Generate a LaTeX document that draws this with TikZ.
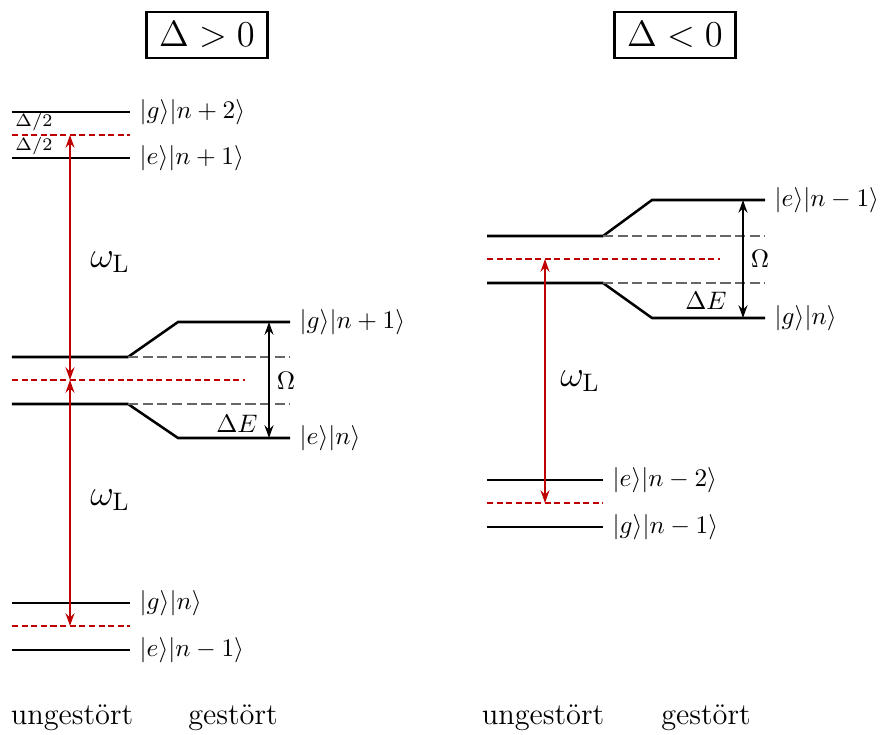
\documentclass[tikz,border=0pt]{standalone}
\usepackage{tikz}
\usetikzlibrary{arrows.meta,positioning}
\definecolor{cL}{HTML}{C00000}
\tikzset{lvl/.style={line width=1pt,line join=round},
  virt/.style={cL,line width=0.8pt,dash pattern=on 2.4pt off 1.4pt},
  bare/.style={black!60,line width=0.8pt,dash pattern=on 4pt off 1.8pt},
  laser/.style={cL,line width=0.9pt,{Stealth[length=5pt,width=3.5pt]}-{Stealth[length=5pt,width=3.5pt]}},
  rabi/.style={line width=0.8pt,{Stealth[length=5pt,width=3.5pt]}-{Stealth[length=5pt,width=3.5pt]}},
  ket/.style={right},
  titlebox/.style={draw,line width=0.9pt,font=\Large,inner xsep=5pt,inner ysep=4pt},
  undertext/.style={font=\large}}

\begin{document}
\begin{tikzpicture}[x=0.013889cm,y=-0.013889cm]
  \useasboundingbox (0,0) rectangle (881,734);
  % Delta > 0
  \node[titlebox] (t1) at (207,35) {$\Delta>0$};
  \draw[lvl] (12,112) -- (130,112) coordinate (g2) node[ket] (kg2) {$|g\rangle|n+2\rangle$};
  \draw[virt] (12,135) -- (130,135) coordinate (v2);
  \draw[lvl] (12,158) -- (130,158) coordinate (e1) node[ket] (ke1) {$|e\rangle|n+1\rangle$};
  \node[font=\scriptsize] (d1) at (34,122) {$\Delta/2$};
  \node[font=\scriptsize] (d2) at (34,146) {$\Delta/2$};
  \draw[lvl] (12,357) -- (128,357) coordinate (ua) -- (178,322) -- (290,322) coordinate (pg1) node[ket] (kpg1) {$|g\rangle|n+1\rangle$};
  \draw[bare] (ua) -- (290,357);
  \draw[virt] (12,380) -- (245,380);
  \draw[lvl] (12,404) -- (128,404) coordinate (ub) -- (178,438) -- (290,438) coordinate (pe0) node[ket] (kpe0) {$|e\rangle|n\rangle$};
  \draw[bare] (ub) -- (290,404);
  \draw[lvl] (12,603) -- (130,603) coordinate (g0) node[ket] (kg0) {$|g\rangle|n\rangle$};
  \draw[virt] (12,626) -- (130,626);
  \draw[lvl] (12,650) -- (130,650) coordinate (em) node[ket] (kem) {$|e\rangle|n-1\rangle$};
  \coordinate (la) at (70,135); \coordinate (lb) at (70,380); \coordinate (lc) at (70,626);
  \draw[laser] (lb) -- (la);
  \draw[laser] (lb) -- (lc);
  \node[font=\Large] (w1) at (110,262) {$\omega_{\mathrm{L}}$};
  \node[font=\Large] (w2) at (110,500) {$\omega_{\mathrm{L}}$};
  \coordinate (oa) at (269,322); \coordinate (ob) at (269,438);
  \draw[rabi] (oa) -- (ob);
  \node (om1) at (286,381) {$\Omega$};
  \node (de1) at (237,424) {$\Delta E$};
  \node[undertext] (u1) at (72,718) {ungestört};
  \node[undertext] (s1) at (233,718) {gestört};
  % Delta < 0
  \node[titlebox] (t2) at (675,35) {$\Delta<0$};
  \draw[lvl] (487,236) -- (603,236) coordinate (uc) -- (652,200) -- (765,200) coordinate (pe1) node[ket] (kpe1) {$|e\rangle|n-1\rangle$};
  \draw[bare] (uc) -- (765,236);
  \draw[virt] (487,259) -- (720,259);
  \draw[lvl] (487,283) -- (603,283) coordinate (ud) -- (652,318) -- (765,318) coordinate (pg0) node[ket] (kpg0) {$|g\rangle|n\rangle$};
  \draw[bare] (ud) -- (765,283);
  \draw[lvl] (487,480) -- (603,480) coordinate (e2) node[ket] (ke2) {$|e\rangle|n-2\rangle$};
  \draw[virt] (487,503) -- (603,503);
  \draw[lvl] (487,527) -- (603,527) coordinate (gm) node[ket] (kgm) {$|g\rangle|n-1\rangle$};
  \coordinate (ra) at (545,259); \coordinate (rb) at (545,503);
  \draw[laser] (ra) -- (rb);
  \node[font=\Large] (w3) at (580,381) {$\omega_{\mathrm{L}}$};
  \coordinate (oc) at (743,200); \coordinate (od) at (743,318);
  \draw[rabi] (oc) -- (od);
  \node (om2) at (760,259) {$\Omega$};
  \node (de2) at (706,301) {$\Delta E$};
  \node[undertext] (u2) at (543,718) {ungestört};
  \node[undertext] (s2) at (706,718) {gestört};
\end{tikzpicture}
\end{document}
